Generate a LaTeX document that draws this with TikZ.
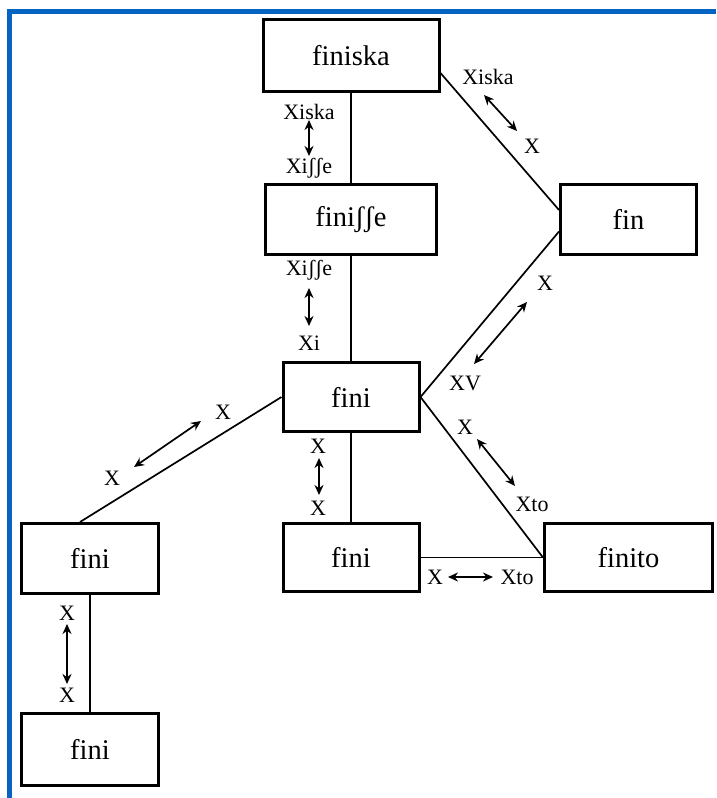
\documentclass[tikz,border=0pt]{standalone}
\usepackage{fontspec}
\setmainfont{Liberation Serif}
\usetikzlibrary{arrows.meta,calc}
\definecolor{frameblue}{RGB}{5,99,193}
\begin{document}
\begin{tikzpicture}[x=1pt,y=-1pt,
  box/.style={draw,line width=3pt,rectangle,inner sep=0pt,font=\fontsize{28.5}{32}\selectfont},
  conn/.style={line width=1.7pt},
  lab/.style={inner sep=0pt,font=\fontsize{22}{25}\selectfont},
  dbl/.style={line width=1.7pt,{Stealth[length=10pt,width=9pt]}-{Stealth[length=10pt,width=9pt]}}]
\useasboundingbox (0,0) rectangle (716,798);
\fill[frameblue] (7,9) rectangle (716,14);
\fill[frameblue] (7,9) rectangle (12,798);

% boxes
\node[box,minimum width=176pt,minimum height=72pt] (finiska) at (351,55.5) {finiska};
\node[box,minimum width=171pt,minimum height=70pt] (finisse) at (351,219.5) {finiʃʃe};
\node[box,minimum width=136pt,minimum height=70pt] (fin) at (628.5,219.5) {fin};
\node[box,minimum width=136pt,minimum height=69pt] (fini) at (351,397) {fini};
\node[box,minimum width=136pt,minimum height=68pt] (finimid) at (351,557.5) {fini};
\node[box,minimum width=168pt,minimum height=68pt] (finito) at (628.5,557.5) {finito};
\node[box,minimum width=137pt,minimum height=70pt] (leftA) at (90,558.5) {fini};
\node[box,minimum width=137pt,minimum height=72pt] (leftB) at (90,749.5) {fini};

% connectors
\draw[conn] (finiska.south) -- (finisse.north);
\draw[conn] (finisse.south) -- (fini.north);
\draw[conn] (fini.south) -- (finimid.north);
\draw[conn] ([yshift=-17.5pt]finiska.east) -- ([yshift=9.5pt]fin.west);
\draw[conn] ([yshift=-12pt]fin.west) -- (fini.east);
\draw[conn] (fini.east) -- (finito.west);
\draw[conn] (finimid.east) -- (finito.west);
\draw[conn] (fini.west) -- ([xshift=-10pt]leftA.north);
\draw[conn] (leftA.south) -- (leftB.north);

% labels finiska - finisse
\node[lab] (l1a) at (309,112) {Xiska};
\node[lab] (l1b) at (309,168) {Xiʃʃe};
\coordinate (a1s) at (309,120); \coordinate (a1e) at (309,156);
\draw[dbl] (a1s) -- (a1e);

% labels finisse - fini
\node[lab] (l2a) at (309,270) {Xiʃʃe};
\node[lab] (l2b) at (309,343) {Xi};
\coordinate (a2s) at (309,288); \coordinate (a2e) at (309,326);
\draw[dbl] (a2s) -- (a2e);

% labels finiska - fin
\node[lab] (l3a) at (488,77) {Xiska};
\node[lab] (l3b) at (532,146) {X};
\coordinate (a3s) at (484,95); \coordinate (a3e) at (517,131);
\draw[dbl] (a3s) -- (a3e);

% labels fin - fini
\node[lab] (l4a) at (545,283) {X};
\node[lab] (l4b) at (465,383) {XV};
\coordinate (a4s) at (527,302); \coordinate (a4e) at (474,364);
\draw[dbl] (a4s) -- (a4e);

% labels fini - finito (diagonal)
\node[lab] (l5a) at (465,427) {X};
\node[lab] (l5b) at (532,504) {Xto};
\coordinate (a5s) at (477,439); \coordinate (a5e) at (515,486);
\draw[dbl] (a5s) -- (a5e);

% labels finimid - finito
\node[lab] (l6a) at (435,577) {X};
\node[lab] (l6b) at (517,577) {Xto};
\coordinate (a6s) at (448,577); \coordinate (a6e) at (493,577);
\draw[dbl] (a6s) -- (a6e);

% labels fini - finimid
\node[lab] (l7a) at (318,446) {X};
\node[lab] (l7b) at (318,508) {X};
\coordinate (a7s) at (319,458); \coordinate (a7e) at (319,495);
\draw[dbl] (a7s) -- (a7e);

% labels fini - leftA
\node[lab] (l8a) at (223,412) {X};
\node[lab] (l8b) at (112,478) {X};
\coordinate (a8s) at (201,421); \coordinate (a8e) at (134,467);
\draw[dbl] (a8s) -- (a8e);

% labels leftA - leftB
\node[lab] (l9a) at (67,613) {X};
\node[lab] (l9b) at (67,695) {X};
\coordinate (a9s) at (67,624); \coordinate (a9e) at (67,684);
\draw[dbl] (a9s) -- (a9e);
\end{tikzpicture}
\end{document}
